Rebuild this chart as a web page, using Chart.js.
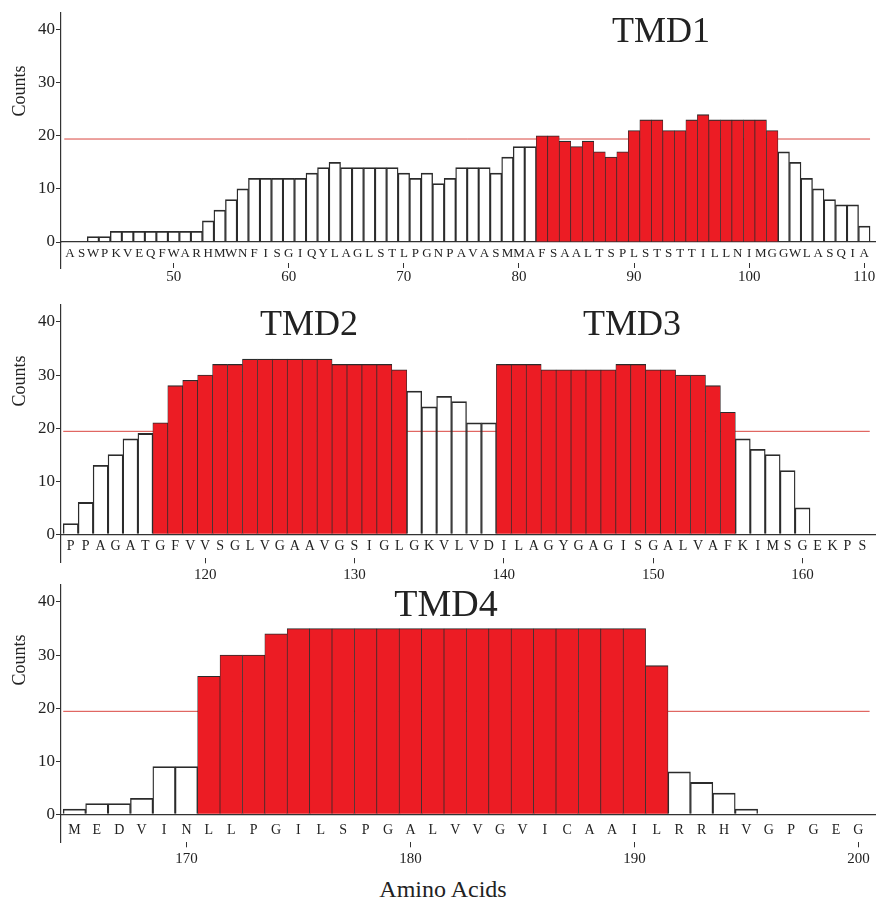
<!DOCTYPE html>
<html>
<head>
<meta charset="utf-8">
<title>Counts per residue</title>
<script src="https://cdn.jsdelivr.net/npm/chart.js@4.4.1/dist/chart.umd.min.js"></script>
<style>
  html, body { margin: 0; padding: 0; background: #fff; }
  #page {
    position: relative;
    width: 877px;
    height: 901px;
    overflow: hidden;
    font-family: "Liberation Serif", "DejaVu Serif", serif;
    color: #222;
  }
  .panel { position: absolute; left: 0; width: 877px; height: 300px; }
  .label { position: absolute; width: 200px; text-align: center; line-height: 1; white-space: nowrap; }
  .counts {
    position: absolute;
    font-size: 18px;
    line-height: 1;
    white-space: nowrap;
    transform: translate(-50%, -50%) rotate(-90deg);
  }
</style>
</head>
<body>
<div id="page">
  <div class="panel" style="top:0px"><canvas id="panel1" width="877" height="300"></canvas></div>
  <div class="panel" style="top:292px"><canvas id="panel2" width="877" height="300"></canvas></div>
  <div class="panel" style="top:572px"><canvas id="panel3" width="877" height="300"></canvas></div>

  <div class="counts" style="left:19px; top:91px">Counts</div>
  <div class="counts" style="left:19px; top:381px">Counts</div>
  <div class="counts" style="left:19px; top:660px">Counts</div>

  <div class="label" style="left:561px; top:11.5px; font-size:36px">TMD1</div>
  <div class="label" style="left:209px; top:305px; font-size:36px">TMD2</div>
  <div class="label" style="left:532px; top:305px; font-size:36px">TMD3</div>
  <div class="label" style="left:346px; top:584px; font-size:38px">TMD4</div>
  <div class="label" style="left:343px; top:877px; font-size:24px">Amino Acids</div>
</div>

<script>
"use strict";

// panel 1: residues 41-110
const seq1 = "ASWPKVEQFWARHMWNFISGIQYLAGLSTLPGNPAVASMMAFSAALTSPLSTSTTILLNIMGGWLASQIA";
const start1 = 41;
const counts1 = [
  0, 0, 1, 1, 2, 2, 2, 2, 2, 2,
  2, 2, 4, 6, 8, 10, 12, 12, 12, 12,
  12, 13, 14, 15, 14, 14, 14, 14, 14, 13,
  12, 13, 11, 12, 14, 14, 14, 13, 16, 18,
  18, 20, 20, 19, 18, 19, 17, 16, 17, 21,
  23, 23, 21, 21, 23, 24, 23, 23, 23, 23,
  23, 21, 17, 15, 12, 10, 8, 7, 7, 3,
];
const tmd1 = [[82, 102]];
const numTicks1 = [50, 60, 70, 80, 90, 100, 110];

// panel 2: residues 111-164
const seq2 = "PPAGATGFVVSGLVGAAVGSIGLGKVLVDILAGYGAGISGALVAFKIMSGEKPS";
const start2 = 111;
const counts2 = [
  2, 6, 13, 15, 18, 19, 21, 28, 29, 30,
  32, 32, 33, 33, 33, 33, 33, 33, 32, 32,
  32, 32, 31, 27, 24, 26, 25, 21, 21, 32,
  32, 32, 31, 31, 31, 31, 31, 32, 32, 31,
  31, 30, 30, 28, 23, 18, 16, 15, 12, 5,
  0, 0, 0, 0,
];
const tmd2 = [[117, 133], [140, 155]];
const numTicks2 = [120, 130, 140, 150, 160];

// panel 3: residues 165-200
const seq3 = "MEDVINLLPGILSPGALVVGVICAAILRRHVGPGEG";
const start3 = 165;
const counts3 = [
  1, 2, 2, 3, 9, 9, 26, 30, 30, 34,
  35, 35, 35, 35, 35, 35, 35, 35, 35, 35,
  35, 35, 35, 35, 35, 35, 28, 8, 6, 4,
  1, 0, 0, 0, 0, 0,
];
const tmd3 = [[171, 191]];
const numTicks3 = [170, 180, 190, 200];

const threshold = 19.4;
const countTicks = [0, 10, 20, 30, 40];
const countMax = 43.2;

const SERIF = "'Liberation Serif', 'DejaVu Serif', serif";
const TEXT = "#222";
const AXIS = "#333";
const EDGE = "#2b2b2b";
const RED = "#ec1c24";
const LINE_RED = "#d9453f";

// draws the short piece of the y axis that hangs below the x axis
const axisTail = {
  id: "axisTail",
  afterDraw(chart, args, opts) {
    const { ctx, chartArea } = chart;
    const x = Math.round(chart.scales.y.right - 0.6) + 0.6;
    ctx.save();
    ctx.strokeStyle = AXIS;
    ctx.lineWidth = 1.2;
    ctx.beginPath();
    ctx.moveTo(x, chartArea.bottom);
    ctx.lineTo(x, chartArea.bottom + opts.length);
    ctx.stroke();
    ctx.restore();
  },
};

function makePanel(id, seq, start, counts, tmds, numTicks, lay) {
  const residues = counts.map((c, i) => start + i);
  const inTmd = (r) => tmds.some(([a, b]) => r >= a && r <= b);
  const first = residues[0];
  const last = residues[residues.length - 1];

  return new Chart(document.getElementById(id), {
    type: "bar",
    data: {
      datasets: [
        {
          data: residues.map((r, i) => ({ x: r, y: counts[i] })),
          backgroundColor: residues.map((r) => (inTmd(r) ? RED : "rgba(255,255,255,0)")),
          borderColor: EDGE,
          borderWidth: { top: 1.1, left: 0.7, right: 0.7, bottom: 0 },
          borderSkipped: false,
          barPercentage: 1,
          categoryPercentage: 1,
          order: 1,
        },
        {
          type: "line",
          data: [
            { x: first - 0.5, y: threshold },
            { x: last + 0.5, y: threshold },
          ],
          borderColor: LINE_RED,
          borderWidth: 1,
          pointRadius: 0,
          order: 2,
        },
      ],
    },
    options: {
      responsive: false,
      animation: false,
      events: [],
      layout: { padding: { top: lay.top, bottom: lay.bottom, left: 0, right: 2 } },
      plugins: {
        legend: { display: false },
        tooltip: { enabled: false },
        axisTail: { length: lay.tail },
      },
      scales: {
        x: {
          type: "linear",
          position: "bottom",
          bounds: "data",
          offset: false,
          min: lay.xMin,
          max: lay.xMax,
          weight: 2,
          afterBuildTicks: (s) => { s.ticks = numTicks.map((v) => ({ value: v })); },
          afterFit: (s) => { s.height = lay.numH; },
          grid: {
            display: true, offset: false, drawOnChartArea: false,
            drawTicks: true, tickLength: 5, color: AXIS, lineWidth: 1,
          },
          border: { display: false },
          ticks: {
            font: { family: SERIF, size: 15 },
            color: TEXT,
            padding: lay.numPad,
            autoSkip: false,
            maxRotation: 0,
          },
        },
        letters: {
          type: "linear",
          position: "bottom",
          bounds: "data",
          offset: false,
          min: lay.xMin,
          max: lay.xMax,
          weight: 1,
          afterBuildTicks: (s) => { s.ticks = residues.map((v) => ({ value: v })); },
          afterFit: (s) => { s.height = lay.letterH; },
          grid: { display: false, offset: false, drawTicks: false },
          border: { display: true, color: AXIS, width: 1.2 },
          ticks: {
            callback: (v) => seq[v - start] || "",
            font: { family: SERIF, size: lay.letterSize },
            color: TEXT,
            padding: lay.letterPad,
            autoSkip: false,
            maxRotation: 0,
            minRotation: 0,
          },
        },
        y: {
          type: "linear",
          bounds: "data",
          min: 0,
          max: countMax,
          afterBuildTicks: (s) => { s.ticks = countTicks.map((v) => ({ value: v })); },
          afterFit: (s) => { s.width = 61; },
          grid: { display: true, drawOnChartArea: false, drawTicks: true, tickLength: 5, color: AXIS, lineWidth: 1 },
          border: { display: true, color: AXIS, width: 1.2 },
          ticks: { font: { family: SERIF, size: 17 }, color: TEXT, padding: 1 },
        },
      },
    },
    plugins: [axisTail],
  });
}

makePanel("panel1", seq1, start1, counts1, tmd1, numTicks1, {
  xMin: 40.215, xMax: 110.93, top: 12.7, bottom: 9,
  letterH: 21, letterPad: 3.5, letterSize: 13, numH: 28, numPad: 0, tail: 27,
});
makePanel("panel2", seq2, start2, counts2, tmd2, numTicks2, {
  xMin: 110.35, xMax: 164.85, top: 13, bottom: 5.7,
  letterH: 24, letterPad: 4, letterSize: 14, numH: 28, numPad: 3, tail: 28.7,
});
makePanel("panel3", seq3, start3, counts3, tmd3, numTicks3, {
  xMin: 164.4, xMax: 200.74, top: 13, bottom: 1.7,
  letterH: 28, letterPad: 7.3, letterSize: 14, numH: 28, numPad: 2.5, tail: 28.7,
});
</script>
</body>
</html>
